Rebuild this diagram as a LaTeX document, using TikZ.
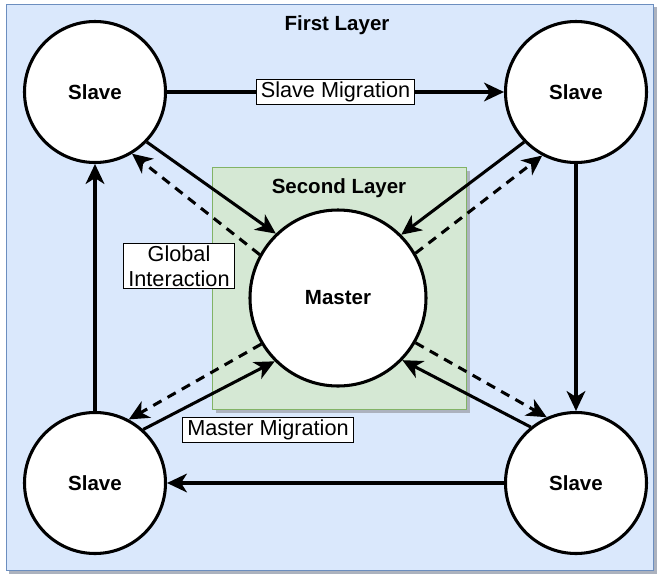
\documentclass[tikz,border=0pt]{standalone}
\usepackage{fontspec}
\setmainfont{Liberation Sans}
\usepackage{xcolor}
\usetikzlibrary{arrows.meta,positioning,calc}
\definecolor{firstfill}{HTML}{DAE8FC}
\definecolor{firstline}{HTML}{6C8EBF}
\definecolor{secondfill}{HTML}{D5E8D4}
\definecolor{secondline}{HTML}{82B366}
\definecolor{shadowgray}{RGB}{172,178,190}
\begin{document}
\begin{tikzpicture}[x=0.03cm,y=-0.03cm,
		every node/.style={font=\fontsize{18.5}{21.5}\selectfont},
		slave/.style={circle,draw,fill=white,line width=2.6pt,minimum size=4.23cm,inner sep=0pt,font=\fontsize{17.5}{20.5}\selectfont\bfseries},
		master/.style={slave,minimum size=5.28cm},
		lbl/.style={draw,fill=white,line width=0.7pt,inner xsep=4pt,inner ysep=2pt,align=center},
		arr/.style={line width=2.6pt,-{Stealth[length=17pt,width=16pt,inset=5pt]}},
		arrdash/.style={arr,dash pattern=on 8pt off 6pt}]
		\useasboundingbox (0,0) rectangle (658,576);
		% first layer
		\fill[shadowgray] (9,7) rectangle (657,574);
		\draw[firstline,fill=firstfill,line width=0.8pt] (6,4) rectangle (653,570);
		\node[font=\fontsize{17.5}{20.5}\selectfont\bfseries] (first) at (337,25) {First Layer};
		% second layer
		\fill[shadowgray] (216,171) rectangle (470,413);
		\draw[secondline,fill=secondfill,line width=0.8pt] (212,167) rectangle (466,409);
		\node[font=\fontsize{17.5}{20.5}\selectfont\bfseries] (second) at (339,188) {Second Layer};
		% nodes
		\node[slave] (tl) at (95,92) {Slave};
		\node[slave] (tr) at (576,92) {Slave};
		\node[slave] (bl) at (95,483) {Slave};
		\node[slave] (br) at (576,483) {Slave};
		\node[master] (m) at (338,298) {Master};
		% slave migration ring
		\draw[arr] (tl) -- node[lbl] (slavemig) {Slave Migration} (tr);
		\draw[arr] (tr) -- (br);
		\draw[arr] (br) -- (bl);
		\draw[arr] (bl) -- (tl);
		% slaves to master
		\draw[arr] (tl.-44) -- (m.134);
		\draw[arr] (tr.-136) -- (m.45);
		\draw[arr] (br.129) -- (m.-44);
		\draw[arr] (bl.48) -- (m.-135);
		% master to slaves
		\draw[arrdash] (m.151) -- (tl.-59);
		\draw[arrdash] (m.30) -- (tr.-118);
		\draw[arrdash] (m.-30) -- (br.114);
		\draw[arrdash] (m.-149) -- (bl.62);
		% labels
		\node[lbl] (global) at (179,266) {Global\\Interaction};
		\node[lbl] (mastermig) at (268,430) {Master Migration};
	\end{tikzpicture}
\end{document}
